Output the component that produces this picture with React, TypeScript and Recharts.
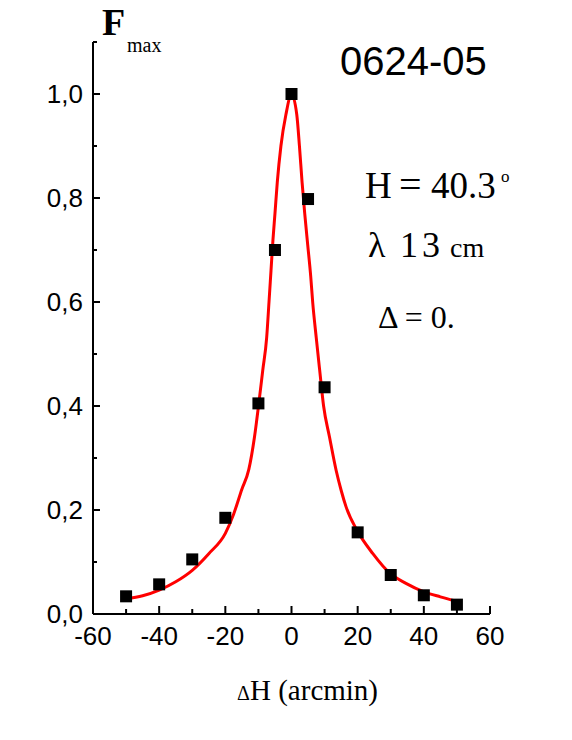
import { ComposedChart, Line, Scatter, XAxis, YAxis } from "recharts";

// measured beam scan: offset (arcmin) vs normalised flux
const offsets = [-50, -40, -30, -20, -10, -5, 0, 5, 10, 20, 30, 40, 50];
const fluxes = [0.034, 0.057, 0.105, 0.185, 0.405, 0.7, 1.0, 0.798, 0.436, 0.157, 0.075, 0.036, 0.018];

// fitted curve
const fitOffsets = [
  -50, -45, -40, -35, -30, -25, -20, -17.5, -15, -12.9, -11.2, -9.9, -8.7, -7.5, -6.8, -6.2,
  -5.6, -5, -4.3, -3.2, -1.7, 0, 1.6, 2.4, 3.2, 4, 4.9, 5.8, 6.4, 7.5, 8.5, 9.7, 11.5, 13.5,
  15, 16.5, 19.8, 24.6, 29.8, 34.6, 39.9, 45, 49.7,
];
const fitValues = [
  0.029, 0.035, 0.046, 0.062, 0.084, 0.116, 0.155, 0.192, 0.24, 0.278, 0.34, 0.404, 0.468, 0.532,
  0.6, 0.66, 0.72, 0.77, 0.83, 0.9, 0.96, 1.0, 0.96, 0.9, 0.83, 0.77, 0.71, 0.65, 0.6, 0.53, 0.47,
  0.4, 0.34, 0.276, 0.238, 0.206, 0.161, 0.116, 0.078, 0.059, 0.043, 0.033, 0.025,
];

const xMajor = [-60, -40, -20, 0, 20, 40, 60];
const xMinor = [-50, -30, -10, 10, 30, 50];
const yMajor = [0, 0.2, 0.4, 0.6, 0.8, 1.0];
const yMinor = [0.1, 0.3, 0.5, 0.7, 0.9, 1.1];

const points = offsets.map((x, i) => ({ x, y: fluxes[i] }));
const fit = fitOffsets.map((x, i) => ({ x, y: fitValues[i] }));

const SANS = "'Liberation Sans', Arial, sans-serif";
const SERIF = "'Liberation Serif', 'Times New Roman', serif";

function XTick({ x, y, payload }: any) {
  const major = xMajor.includes(payload.value);
  return (
    <g>
      <line x1={x} x2={x} y1={y} y2={y - (major ? 8 : 5)} stroke="#000" strokeWidth={2} />
      {major && (
        <text x={x} y={y + 31} textAnchor="middle" fontSize={26} fontFamily={SANS} fill="#000">
          {String(payload.value)}
        </text>
      )}
    </g>
  );
}

function YTick({ x, y, payload }: any) {
  const major = yMajor.some((v) => Math.abs(v - payload.value) < 1e-6);
  return (
    <g>
      <line x1={x} x2={x + (major ? 7 : 4)} y1={y} y2={y} stroke="#000" strokeWidth={2} />
      {major && (
        <text x={x - 10} y={y + 9} textAnchor="end" fontSize={26} fontFamily={SANS} fill="#000">
          {payload.value.toFixed(1).replace(".", ",")}
        </text>
      )}
    </g>
  );
}

function Square({ cx, cy }: any) {
  return <rect x={cx - 6} y={cy - 6} width={12} height={12} fill="#000" />;
}

export default function App() {
  return (
    <div style={{ position: "absolute", left: 0, top: 0, width: 572, height: 740, background: "#fff" }}>
      <ComposedChart
        width={572}
        height={740}
        margin={{ top: 42, right: 82, bottom: 86, left: 33 }}
      >
        <XAxis
          type="number"
          dataKey="x"
          domain={[-60, 60]}
          ticks={[...xMajor, ...xMinor].sort((a, b) => a - b)}
          interval={0}
          tickSize={0}
          tickMargin={0}
          tick={<XTick />}
          axisLine={{ stroke: "#000", strokeWidth: 2 }}
          height={40}
          allowDataOverflow
        />
        <YAxis
          type="number"
          dataKey="y"
          domain={[0, 1.1]}
          ticks={[...yMajor, ...yMinor].sort((a, b) => a - b)}
          interval={0}
          tickSize={0}
          tickMargin={0}
          tick={<YTick />}
          axisLine={{ stroke: "#000", strokeWidth: 2 }}
          width={60}
          allowDataOverflow
        />
        <Scatter data={points} dataKey="y" shape={<Square />} isAnimationActive={false} />
        <Line
          data={fit}
          dataKey="y"
          type="monotone"
          dot={false}
          activeDot={false}
          stroke="#ff0000"
          strokeWidth={3}
          isAnimationActive={false}
        />
      </ComposedChart>
      <svg
        width={572}
        height={740}
        style={{ position: "absolute", left: 0, top: 0, pointerEvents: "none" }}
      >
        <text x={102} y={35} fontSize={38} fontWeight="bold" fontFamily={SERIF}>F</text>
        <text x={127} y={52} fontSize={20} fontFamily={SERIF}>max</text>
        <text x={340} y={75} fontSize={40} fontFamily={SANS}>0624-05</text>
        <text x={365} y={198} fontSize={37} fontFamily={SERIF}>H</text>
        <text x={399} y={198} fontSize={40} fontFamily={SERIF}>=</text>
        <text x={431} y={198} fontSize={37} fontFamily={SERIF}>40.3</text>
        <text x={501} y={182} fontSize={17} fontFamily={SERIF}>o</text>
        <text x={368} y={257} fontSize={36} fontFamily={SERIF}>λ</text>
        <text x={400} y={257} fontSize={36} letterSpacing={4} fontFamily={SERIF}>13</text>
        <text x={450} y={257} fontSize={28} fontFamily={SERIF}>cm</text>
        <text x={378} y={328} fontSize={32} fontFamily={SERIF}>Δ = 0.</text>
        <text x={237} y={700} fontSize={20} fontFamily={SERIF}>Δ</text>
        <text x={250} y={700} fontSize={29} fontFamily={SERIF}>H (arcmin)</text>
      </svg>
    </div>
  );
}
